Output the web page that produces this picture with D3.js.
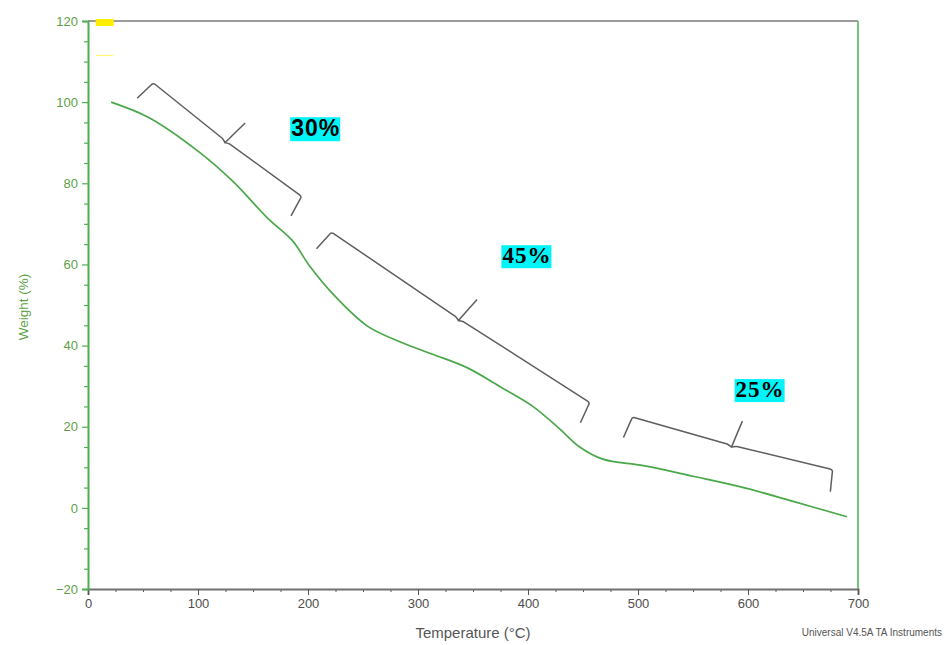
<!DOCTYPE html>
<html>
<head>
<meta charset="utf-8">
<script src="https://cdn.jsdelivr.net/npm/d3@7"></script>
<style>
  html, body { margin: 0; padding: 0; background: #fff; }
  svg { display: block; }
</style>
</head>
<body>
<svg id="chart" width="946" height="645"></svg>
<script>
// TGA curve: temperature (°C) and remaining weight (%)
const temperature = [21, 56, 102, 132, 163, 186, 202, 223, 254, 284, 314, 345, 375, 405, 429, 447, 468, 505, 550, 596, 641, 690];
const weight      = [100, 96.1, 87.5, 80.4, 71.5, 65.8, 59.4, 52.6, 44.8, 40.9, 37.8, 34.5, 29.8, 24.9, 19.4, 15.0, 12.0, 10.4, 7.8, 5.0, 1.6, -2.2];

// Axis ticks
const xTicks = [0, 100, 200, 300, 400, 500, 600, 700];
const yTicks = [-20, 0, 20, 40, 60, 80, 100, 120];

// Weight-loss steps: bracket ends (temperature, weight) and the percentage label
const stepLabels = ["30%", "45%", "25%"];
const stepStart  = [[59, 104.8], [221, 68.0], [494.5, 22.4]];
const stepEnd    = [[194.5, 76.7], [456.4, 25.9], [677.3, 9.4]];
const stepLabelAt = [[207, 91.6], [399, 60.3], [611, 27.3]];

const svg = d3.select("#chart");
const margin = { left: 88, right: 88, top: 21, bottom: 56 };
const W = 946, H = 645;

const x = d3.scaleLinear().domain([0, 700]).range([margin.left, W - margin.right]);
const y = d3.scaleLinear().domain([-20, 120]).range([H - margin.bottom, margin.top]);

const green = "#4fae4f";
const labelGreen = "#5d9f48";

// frame: top grey, right green
svg.append("line").attr("x1", x(0)).attr("x2", x(700)).attr("y1", y(120)).attr("y2", y(120))
  .attr("stroke", "#7a7a7a").attr("stroke-width", 1.5);
svg.append("line").attr("x1", x(700)).attr("x2", x(700)).attr("y1", y(120)).attr("y2", y(-20))
  .attr("stroke", "#77c477").attr("stroke-width", 2);

// legend swatch near the top-left corner
svg.append("rect").attr("x", x(7)).attr("y", y(120.5)).attr("width", 18).attr("height", 7).attr("fill", "#ffee00");
svg.append("line").attr("x1", x(7)).attr("x2", x(23)).attr("y1", y(111.5)).attr("y2", y(111.5))
  .attr("stroke", "#fff570").attr("stroke-width", 1.2);

// x axis
const xMinor = d3.range(0, 701, 25).filter(v => v % 100 !== 0);
const gx = svg.append("g").attr("transform", `translate(0,${y(-20)})`);
gx.call(d3.axisBottom(x).tickValues(xMinor).tickSize(3).tickFormat(""));
gx.call(g => g.selectAll(".domain").remove());
gx.append("g").call(d3.axisBottom(x).tickValues(xTicks).tickSize(6).tickPadding(4).tickFormat(d3.format("d")));
gx.selectAll("path.domain").attr("stroke", "#707070").attr("stroke-width", 2);
gx.selectAll(".tick line").attr("stroke", "#555");
gx.selectAll("text").attr("fill", "#4d4d4d").style("font-family", "Liberation Sans, Arial, sans-serif").style("font-size", "13px");

// y axis
const yMinor = d3.range(-20, 121, 5).filter(v => v % 20 !== 0);
const gy = svg.append("g").attr("transform", `translate(${x(0)},0)`);
gy.call(d3.axisLeft(y).tickValues(yMinor).tickSize(4).tickFormat(""));
gy.call(g => g.selectAll(".domain").remove());
gy.append("g").call(d3.axisLeft(y).tickValues(yTicks).tickSize(6).tickPadding(4).tickFormat(d3.format("d")));
gy.selectAll("path.domain").attr("stroke", green).attr("stroke-width", 2);
gy.selectAll(".tick line").attr("stroke", green).attr("stroke-width", 1.2);
gy.selectAll("text").attr("fill", labelGreen).style("font-family", "Liberation Sans, Arial, sans-serif").style("font-size", "13px");

// axis titles
svg.append("text").attr("x", (x(0) + x(700)) / 2).attr("y", 638).attr("text-anchor", "middle")
  .attr("fill", "#555").style("font-family", "Liberation Sans, Arial, sans-serif").style("font-size", "15px")
  .text("Temperature (°C)");
svg.append("text").attr("transform", `translate(28,${(y(120) + y(-20)) / 2 + 2}) rotate(-90)`)
  .attr("text-anchor", "middle").attr("fill", labelGreen)
  .style("font-family", "Liberation Sans, Arial, sans-serif").style("font-size", "13.5px")
  .text("Weight (%)");
svg.append("text").attr("x", 942).attr("y", 636).attr("text-anchor", "end")
  .attr("fill", "#555").style("font-family", "Liberation Sans, Arial, sans-serif").style("font-size", "10px")
  .text("Universal V4.5A TA Instruments");

// weight curve
const pts = temperature.map((t, i) => [t, weight[i]]);
svg.append("path").datum(pts)
  .attr("fill", "none").attr("stroke", "#4aa84a").attr("stroke-width", 1.7)
  .attr("d", d3.line().x(d => x(d[0])).y(d => y(d[1])).curve(d3.curveCatmullRom.alpha(0.5)));

// curly brackets spanning each step
function bracePath(p1, p2, hook, tip) {
  const dx = p2[0] - p1[0], dy = p2[1] - p1[1];
  const len = Math.hypot(dx, dy);
  const u = [dx / len, dy / len];
  const n = [u[1], -u[0]]; // outward normal (away from the curve)
  const at = (p, a, b) => [p[0] + u[0] * a + n[0] * b, p[1] + u[1] * a + n[1] * b];
  const m = [(p1[0] + p2[0]) / 2, (p1[1] + p2[1]) / 2];
  const e1 = at(p1, -3, -hook), e2 = at(p2, 3, -hook);
  const c1a = at(p1, 0, -3), c1b = at(p1, 3, 0);
  const c2a = at(p2, -3, 0), c2b = at(p2, 0, -3);
  const mL = at(m, -5, -2), mR = at(m, 5, -2), mC = at(m, 0, -4);
  const t = at(m, 4, tip);
  const p = d3.path();
  p.moveTo(...e1); p.lineTo(...c1a); p.quadraticCurveTo(...p1, ...c1b);
  p.lineTo(...mL); p.quadraticCurveTo(...at(m, -1, -3), ...mC);
  p.quadraticCurveTo(...at(m, 1, -3), ...mR);
  p.lineTo(...c2a); p.quadraticCurveTo(...p2, ...c2b); p.lineTo(...e2);
  p.moveTo(...mC); p.quadraticCurveTo(...at(m, 1, 4), ...t);
  return p.toString();
}

stepLabels.forEach((lab, i) => {
  const a = [x(stepStart[i][0]), y(stepStart[i][1])];
  const b = [x(stepEnd[i][0]), y(stepEnd[i][1])];
  svg.append("path").attr("d", bracePath(a, b, 22, 24))
    .attr("fill", "none").attr("stroke", "#5e5e5e").attr("stroke-width", 1.5).attr("stroke-linejoin", "round");

  const cx = x(stepLabelAt[i][0]), cy = y(stepLabelAt[i][1]);
  const txt = svg.append("text").attr("x", cx).attr("y", cy).attr("text-anchor", "middle")
    .attr("fill", "#000").attr("font-weight", "bold")
    .style("font-family", i === 0 ? "Liberation Sans Narrow, Liberation Sans, Arial, sans-serif" : "Liberation Serif, Times New Roman, serif")
    .style("font-size", "23px")
    .style("letter-spacing", "1px")
    .text(lab);
  const bb = txt.node().getBBox();
  svg.insert("rect", () => txt.node())
    .attr("x", bb.x - 1).attr("y", bb.y + 2).attr("width", bb.width + 1).attr("height", bb.height - 2)
    .attr("fill", "#00f4f8");
});
</script>
</body>
</html>
